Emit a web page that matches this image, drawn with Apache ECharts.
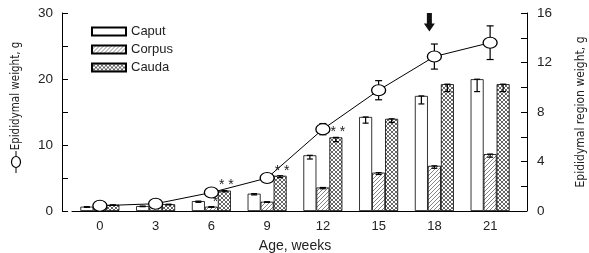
<!DOCTYPE html>
<html>
<head>
<meta charset="utf-8">
<script src="https://cdn.jsdelivr.net/npm/echarts@6/dist/echarts.min.js"></script>
<style>
  html, body { margin: 0; padding: 0; background: #fff; }
  #chart { width: 589px; height: 253px; }
</style>
</head>
<body>
<div id="chart"></div>
<script>
  // data
  var weeks = ['0', '3', '6', '9', '12', '15', '18', '21']
  // whole epididymis, g (left axis)
  var totalWeight = [0.8, 1.1, 2.8, 5.0, 12.4, 18.3, 23.4, 25.5]
  var totalErr = [0.1, 0.1, 0.3, 0.4, 0.85, 1.45, 1.9, 2.55]
  // regions, g (right axis)
  var caput = [0.35, 0.4, 0.8, 1.4, 4.5, 7.6, 9.3, 10.65]
  var caputErr = [0.05, 0.05, 0.1, 0.1, 0.3, 0.5, 0.65, 1.0]
  var corpus = [0.3, 0.3, 0.35, 0.75, 1.9, 3.1, 3.65, 4.6]
  var corpusErr = [0.03, 0.03, 0.05, 0.05, 0.1, 0.15, 0.2, 0.25]
  var cauda = [0.5, 0.55, 1.65, 2.85, 5.95, 7.45, 10.25, 10.25]
  var caudaErr = [0.05, 0.05, 0.1, 0.15, 0.35, 0.3, 0.6, 0.6]
  // significance marks: index -> text
  var corpusStars = { 2: '*' }
  var caudaStars = { 2: '* *', 3: '* *', 4: '* *' }
  // arrow at week 18, from 30 down to 27.2 on left axis
  var arrowWeek = 6
  var arrowTop = 30
  var arrowBottom = 27.2

  var font = '"Liberation Sans", Arial, sans-serif'
  var narrow = '"Liberation Sans Narrow", "DejaVu Sans Condensed", sans-serif'
  var barW = 13

  function makePattern(kind) {
    var c = document.createElement('canvas')
    c.width = 4
    c.height = 4
    var ctx = c.getContext('2d')
    ctx.fillStyle = '#fff'
    ctx.fillRect(0, 0, 4, 4)
    ctx.strokeStyle = kind === 'cross' ? '#555' : '#777'
    ctx.lineWidth = 0.9
    ctx.beginPath()
    ctx.moveTo(-1, 5); ctx.lineTo(5, -1)
    ctx.moveTo(-1, 1); ctx.lineTo(1, -1)
    ctx.moveTo(3, 5); ctx.lineTo(5, 3)
    if (kind === 'cross') {
      ctx.moveTo(-1, -1); ctx.lineTo(5, 5)
      ctx.moveTo(3, -1); ctx.lineTo(5, 1)
      ctx.moveTo(-1, 3); ctx.lineTo(1, 5)
    }
    ctx.stroke()
    return { image: c, repeat: 'repeat' }
  }

  function errBars(offset, w) {
    return function (params, api) {
      var i = api.value(0)
      var x = api.coord([i, 0])[0] + offset
      var hi = api.coord([i, api.value(1)])[1]
      var lo = api.coord([i, api.value(2)])[1]
      var st = { stroke: '#000', lineWidth: 1.2 }
      return {
        type: 'group',
        children: [
          { type: 'line', shape: { x1: x, y1: hi, x2: x, y2: lo }, style: st },
          { type: 'line', shape: { x1: x - w, y1: hi, x2: x + w, y2: hi }, style: st },
          { type: 'line', shape: { x1: x - w, y1: lo, x2: x + w, y2: lo }, style: st }
        ]
      }
    }
  }

  function barData(vals, stars) {
    return vals.map(function (v, i) {
      if (!stars[i]) return v
      return { value: v, label: { show: true, formatter: stars[i] } }
    })
  }

  var chart = echarts.init(document.getElementById('chart'))
  var option = {
    animation: false,
    textStyle: { fontFamily: font },
    legend: {
      data: ['Caput', 'Corpus', 'Cauda'],
      orient: 'vertical',
      left: 86,
      top: 20,
      icon: 'rect',
      itemWidth: 34,
      itemHeight: 8,
      itemGap: 5,
      textStyle: { fontSize: 13, color: '#222', fontFamily: font }
    },
    grid: { left: 72, right: 71, top: 13, bottom: 42, outerBoundsMode: 'none' },
    xAxis: {
      type: 'category',
      data: weeks,
      name: 'Age, weeks',
      nameLocation: 'middle',
      nameGap: 28,
      nameTextStyle: { fontSize: 14, color: '#222' },
      axisLine: { lineStyle: { color: '#000' } },
      axisTick: { alignWithLabel: true, length: 5, lineStyle: { color: '#000' } },
      axisLabel: { fontSize: 13, color: '#222', margin: 9 }
    },
    yAxis: [{
      type: 'value',
      min: 0,
      max: 30,
      interval: 5,
      offset: 10,
      axisLine: { show: true, lineStyle: { color: '#000' } },
      axisTick: { show: true, inside: true, length: 6, lineStyle: { color: '#000' } },
      axisLabel: {
        fontSize: 13.5, color: '#222', margin: 9,
        formatter: function (v) { return v % 10 === 0 ? v : '' }
      },
      splitLine: { show: false }
    }, {
      type: 'value',
      min: 0,
      max: 16,
      interval: 2,
      offset: 9,
      position: 'right',
      name: 'Epididymal region weight, g',
      nameLocation: 'middle',
      nameRotate: 90,
      nameGap: 48,
      nameTextStyle: { fontSize: 12, color: '#222', fontFamily: narrow },
      axisLine: { show: true, lineStyle: { color: '#000' } },
      axisTick: { show: true, inside: true, length: 6, lineStyle: { color: '#000' } },
      axisLabel: {
        fontSize: 13.5, color: '#222', margin: 10,
        formatter: function (v) { return v % 4 === 0 ? v : '' }
      },
      splitLine: { show: false }
    }],
    graphic: [
      // left axis title with its line-and-circle key
      {
        type: 'text', x: 16, y: 96, rotation: Math.PI / 2,
        style: { text: 'Epididymal weight, g', font: '11.5px ' + narrow, fill: '#222', align: 'center', verticalAlign: 'middle' }
      },
      { type: 'line', shape: { x1: 16, y1: 151, x2: 16, y2: 173 }, style: { stroke: '#000', lineWidth: 1 } },
      { type: 'ellipse', shape: { cx: 16, cy: 162, rx: 4.5, ry: 5.5 }, style: { fill: '#fff', stroke: '#000', lineWidth: 1.2 } },
      // baseline runs on to the right axis
      { type: 'line', shape: { x1: 518, y1: 211.5, x2: 527, y2: 211.5 }, style: { stroke: '#000', lineWidth: 1 } }
    ],
    series: [{
      name: 'Caput',
      type: 'bar',
      yAxisIndex: 1,
      barWidth: barW,
      barGap: '0%',
      itemStyle: { color: '#fff', borderColor: '#000', borderWidth: 0.8 },
      data: caput
    }, {
      name: 'Corpus',
      type: 'bar',
      yAxisIndex: 1,
      barWidth: barW,
      barGap: '0%',
      itemStyle: { color: makePattern('hatch'), borderColor: '#000', borderWidth: 0.8 },
      label: { show: false, position: 'top', distance: -2, fontSize: 14, color: '#222', offset: [4, 0] },
      data: barData(corpus, corpusStars)
    }, {
      name: 'Cauda',
      type: 'bar',
      yAxisIndex: 1,
      barWidth: barW,
      barGap: '0%',
      itemStyle: { color: makePattern('cross'), borderColor: '#000', borderWidth: 0.8 },
      label: { show: false, position: 'top', distance: -2, fontSize: 14, color: '#222', offset: [2, 0] },
      data: barData(cauda, caudaStars)
    }, {
      type: 'custom',
      yAxisIndex: 1,
      z: 3,
      renderItem: errBars(-barW, 3),
      data: caput.map(function (v, i) { return [i, v, v - caputErr[i]] })
    }, {
      type: 'custom',
      yAxisIndex: 1,
      z: 3,
      renderItem: errBars(0, 3),
      data: corpus.map(function (v, i) { return [i, v, v - corpusErr[i]] })
    }, {
      type: 'custom',
      yAxisIndex: 1,
      z: 3,
      renderItem: errBars(barW, 3),
      data: cauda.map(function (v, i) { return [i, v, v - caudaErr[i]] })
    }, {
      type: 'custom',
      yAxisIndex: 0,
      z: 4,
      renderItem: errBars(0, 3.5),
      data: totalWeight.map(function (v, i) { return [i, v + totalErr[i], v - totalErr[i]] })
    }, {
      name: 'Epididymal weight',
      type: 'line',
      yAxisIndex: 0,
      z: 5,
      symbol: 'circle',
      symbolSize: [14, 11],
      lineStyle: { color: '#000', width: 1 },
      itemStyle: { color: '#fff', borderColor: '#000', borderWidth: 1.2 },
      data: totalWeight
    }, {
      type: 'custom',
      yAxisIndex: 0,
      z: 6,
      renderItem: function (params, api) {
        var p1 = api.coord([api.value(0), api.value(1)])
        var p2 = api.coord([api.value(0), api.value(2)])
        var x = p1[0] - 5
        var neck = p2[1] - 8
        return {
          type: 'polygon',
          shape: {
            points: [
              [x - 2.5, p1[1]], [x + 2.5, p1[1]], [x + 2.5, neck], [x + 5.5, neck],
              [x, p2[1]], [x - 5.5, neck], [x - 2.5, neck]
            ]
          },
          style: { fill: '#111' }
        }
      },
      data: [[arrowWeek, arrowTop, arrowBottom]]
    }]
  }
  chart.setOption(option)
</script>
</body>
</html>
